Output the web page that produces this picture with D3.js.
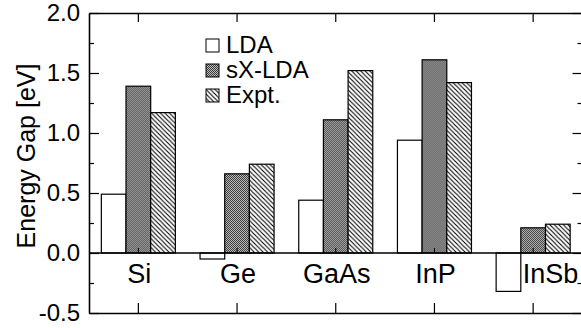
<!DOCTYPE html>
<html>
<head>
<meta charset="utf-8">
<script src="https://cdn.jsdelivr.net/npm/d3@7.9.0/dist/d3.min.js"></script>
<style>
  body { margin: 0; background: #fff; }
  svg { display: block; font-family: "Liberation Sans", Arial, Helvetica, sans-serif; }
</style>
</head>
<body>
<svg id="chart" width="581" height="328"></svg>
<script>
const categories = ['Si', 'Ge', 'GaAs', 'InP', 'InSb'];
const seriesNames = ['LDA', 'sX-LDA', 'Expt.'];
const ldaGap = [0.49, -0.05, 0.44, 0.94, -0.32];
const sxldaGap = [1.39, 0.66, 1.11, 1.61, 0.21];
const exptGap = [1.17, 0.74, 1.52, 1.42, 0.24];
const yTicks = [-0.5, 0.0, 0.5, 1.0, 1.5, 2.0];
const yMinorTicks = [-0.25, 0.25, 0.75, 1.25, 1.75];

const svg = d3.select('#chart');
const plotLeft = 89, plotRight = 582.5, plotTop = 13, plotBottom = 313;

let x = d3.scaleBand().domain(categories).range([plotLeft, plotRight]).paddingInner(0.25).paddingOuter(0.125);
let xs = d3.scaleBand().domain(seriesNames).range([0, x.bandwidth()]);
let y = d3.scaleLinear().domain([-0.5, 2.0]).range([plotBottom, plotTop]);

// patterns
let defs = svg.append('defs');
let dots = defs.append('pattern').attr('id', 'pat-sx')
    .attr('patternUnits', 'userSpaceOnUse').attr('width', 2).attr('height', 2);
dots.append('rect').attr('width', 2).attr('height', 2).attr('fill', '#bdbdbd');
dots.append('rect').attr('width', 1).attr('height', 1).attr('fill', '#3a3a3a');
dots.append('rect').attr('x', 1).attr('y', 1).attr('width', 1).attr('height', 1).attr('fill', '#3a3a3a');

let hatch = defs.append('pattern').attr('id', 'pat-expt')
    .attr('patternUnits', 'userSpaceOnUse').attr('width', 4.5).attr('height', 4.5);
hatch.append('rect').attr('width', 4.5).attr('height', 4.5).attr('fill', '#fff');
hatch.append('path').attr('d', 'M-1,-1 L5.5,5.5 M-1,3.5 L1,5.5 M3.5,-1 L5.5,1')
    .attr('stroke', '#000').attr('stroke-width', 1.1);

const fills = { 'LDA': '#fff', 'sX-LDA': 'url(#pat-sx)', 'Expt.': 'url(#pat-expt)' };

let rows = categories.map((c, i) => ({
    cat: c,
    vals: [
        { key: 'LDA', value: ldaGap[i] },
        { key: 'sX-LDA', value: sxldaGap[i] },
        { key: 'Expt.', value: exptGap[i] },
    ]
}));

// bars
let groups = svg.append('g').selectAll('g').data(rows).join('g')
    .attr('transform', d => `translate(${x(d.cat)},0)`);
groups.selectAll('rect').data(d => d.vals).join('rect')
    .attr('x', d => xs(d.key))
    .attr('width', xs.bandwidth())
    .attr('y', d => y(Math.max(0, d.value)))
    .attr('height', d => Math.abs(y(d.value) - y(0)))
    .attr('fill', d => fills[d.key])
    .attr('stroke', '#000')
    .attr('stroke-width', 1.2);

// zero line
svg.append('line')
    .attr('x1', plotLeft).attr('x2', plotRight)
    .attr('y1', y(0)).attr('y2', y(0))
    .attr('stroke', '#000').attr('stroke-width', 1.5);
svg.append('g').selectAll('line').data(categories).join('line')
    .attr('x1', d => x(d) + x.bandwidth() / 2).attr('x2', d => x(d) + x.bandwidth() / 2)
    .attr('y1', y(0)).attr('y2', y(0) - 5)
    .attr('stroke', '#000').attr('stroke-width', 1);

// axes
const fmt = d => d.toFixed(1);
let yAxis = svg.append('g').attr('transform', `translate(${plotLeft},0)`)
    .call(d3.axisLeft(y).tickValues(yTicks).tickFormat(fmt).tickSizeInner(-10).tickSizeOuter(0).tickPadding(9));
svg.append('g').attr('transform', `translate(${plotLeft},0)`)
    .call(d3.axisLeft(y).tickValues(yMinorTicks).tickFormat('').tickSizeInner(-5).tickSizeOuter(0))
    .select('.domain').remove();
svg.append('g').attr('transform', `translate(${plotRight},0)`)
    .call(d3.axisRight(y).tickValues(yTicks).tickFormat('').tickSizeInner(-10).tickSizeOuter(0));
svg.append('g').attr('transform', `translate(${plotRight},0)`)
    .call(d3.axisRight(y).tickValues(yMinorTicks).tickFormat('').tickSizeInner(-5).tickSizeOuter(0))
    .select('.domain').remove();

svg.append('g').attr('transform', `translate(0,${plotBottom})`)
    .call(d3.axisBottom(x).tickFormat('').tickSizeInner(-10).tickSizeOuter(0));
svg.append('g').attr('transform', `translate(0,${plotTop})`)
    .call(d3.axisTop(x).tickFormat('').tickSizeInner(-9).tickSizeOuter(0));

svg.selectAll('.domain').attr('stroke-width', 1.6);
svg.selectAll('.tick line').attr('stroke-width', 1.2);
yAxis.selectAll('text')
    .attr('font-size', 24)
    .attr('font-family', '"Liberation Sans", Arial, sans-serif')
    .attr('fill', '#000');

// category labels
svg.append('g').selectAll('text').data(rows).join('text')
    .attr('x', d => d.vals[0].value < -0.1
        ? x(d.cat) + xs('sX-LDA') + 2
        : x(d.cat) + x.bandwidth() / 2 + 1)
    .attr('y', 283)
    .attr('text-anchor', d => d.vals[0].value < -0.1 ? 'start' : 'middle')
    .attr('font-size', 27)
    .text(d => d.cat);

// y title
svg.append('text')
    .attr('transform', 'translate(35,156) rotate(-90)')
    .attr('text-anchor', 'middle')
    .attr('font-size', 25)
    .text('Energy Gap [eV]');

// legend
let legend = svg.append('g').attr('transform', 'translate(206,0)');
let items = legend.selectAll('g').data(seriesNames).join('g')
    .attr('transform', (d, i) => `translate(0,${53 + i * 25})`);
items.append('rect')
    .attr('x', 0).attr('y', -14).attr('width', 13).attr('height', 13)
    .attr('fill', d => fills[d]).attr('stroke', '#000').attr('stroke-width', 1);
items.append('text')
    .attr('x', 20).attr('y', 0)
    .attr('font-size', 24)
    .text(d => d);
</script>
</body>
</html>
